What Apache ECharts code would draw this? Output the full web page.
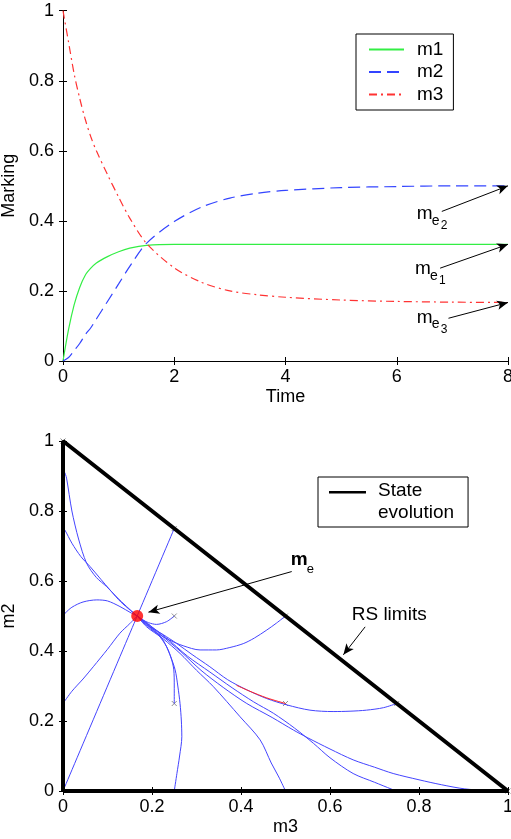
<!DOCTYPE html>
<html>
<head>
<meta charset="utf-8">
<script src="https://cdn.jsdelivr.net/npm/echarts@6/dist/echarts.min.js"></script>
<style>html,body{margin:0;padding:0;background:#fff}#c{width:511px;height:839px}</style>
</head>
<body>
<div id="c"></div>
<script>
// ---------- top chart data (Marking vs Time) ----------
const time = [0, 0.1, 0.2, 0.3, 0.4, 0.5, 0.6, 0.8, 1.0, 1.2, 1.5, 2.0, 2.5, 3.0, 3.5, 4, 5, 6, 7, 8];
const m1 = [0, 0.09, 0.16, 0.21, 0.245, 0.265, 0.28, 0.298, 0.312, 0.322, 0.33, 0.333, 0.333, 0.333, 0.333, 0.333, 0.333, 0.333, 0.333, 0.333];
const m2 = [0, 0.01, 0.03, 0.05, 0.075, 0.095, 0.12, 0.17, 0.22, 0.27, 0.336, 0.398, 0.44, 0.465, 0.479, 0.487, 0.495, 0.498, 0.5, 0.5];
const m3 = [1, 0.91, 0.82, 0.75, 0.69, 0.64, 0.60, 0.532, 0.468, 0.408, 0.336, 0.266, 0.224, 0.2, 0.189, 0.182, 0.174, 0.17, 0.168, 0.167];
const topXTicks = [0, 2, 4, 6, 8];
const topYTicks = [0, 0.2, 0.4, 0.6, 0.8, 1];
// arrows: [from, to] in (Time, Marking)
const topArrows = [
  [[6.81, 0.427], [8, 0.5]],
  [[6.78, 0.265], [8, 0.333]],
  [[6.93, 0.122], [8, 0.167]]
];
// labels m_e with subscript: anchor = left-middle of "m"
const topNotes = [
  { at: [6.36, 0.42], sub: '2' },
  { at: [6.33, 0.263], sub: '1' },
  { at: [6.36, 0.124], sub: '3' }
];

// ---------- bottom chart data (m2 vs m3) ----------
const rsLimits = [[0, 0], [1, 0], [0, 1], [0, 0]];
const equilibrium = [[0.1667, 0.5]];
const startPoints = [[0, 1], [0.25, 0.75], [0.25, 0.5], [0.5, 0.5], [0.25, 0.25], [0.5, 0.25], [0.75, 0.25], [1, 0]];
const trajectories = [
  [[0.004, 0.91], [0.008, 0.894], [0.02, 0.80], [0.035, 0.72], [0.053, 0.651], [0.075, 0.61], [0.098, 0.584], [0.12, 0.555], [0.143, 0.527], [0.1667, 0.5]],
  [[0, 0.75], [0.004, 0.746], [0.02, 0.708], [0.04, 0.67], [0.061, 0.641], [0.085, 0.605], [0.106, 0.574], [0.13, 0.54], [0.1667, 0.5]],
  [[0.25, 0.75], [0.1667, 0.5]],
  [[0, 0], [0.1667, 0.5]],
  [[0, 0.5], [0.004, 0.507], [0.02, 0.525], [0.045, 0.54], [0.076, 0.546], [0.1, 0.543], [0.128, 0.527], [0.154, 0.508], [0.1667, 0.5]],
  [[0, 0.25], [0.02, 0.285], [0.045, 0.32], [0.068, 0.355], [0.1, 0.405], [0.128, 0.451], [0.15, 0.478], [0.1667, 0.5]],
  [[0.25, 0.5], [0.233, 0.484], [0.21, 0.476], [0.192, 0.481], [0.178, 0.49], [0.1667, 0.5]],
  [[0.5, 0.5], [0.48, 0.48], [0.458, 0.46], [0.43, 0.437], [0.405, 0.421], [0.375, 0.41], [0.345, 0.403], [0.308, 0.403], [0.27, 0.415], [0.24, 0.431], [0.2, 0.46], [0.1667, 0.5]],
  [[0.75, 0.25], [0.72, 0.238], [0.682, 0.231], [0.645, 0.228], [0.607, 0.227], [0.555, 0.231], [0.503, 0.246], [0.458, 0.264], [0.413, 0.289], [0.37, 0.318], [0.33, 0.355], [0.29, 0.39], [0.255, 0.422], [0.225, 0.447], [0.2, 0.466], [0.1667, 0.5]],
  [[1, 0], [0.95, 0.002], [0.903, 0.006], [0.85, 0.018], [0.8, 0.032], [0.742, 0.05], [0.7, 0.068], [0.652, 0.089], [0.6, 0.12], [0.55, 0.152], [0.518, 0.174], [0.47, 0.21], [0.413, 0.25], [0.36, 0.296], [0.31, 0.345], [0.265, 0.398], [0.22, 0.446], [0.19, 0.479], [0.1667, 0.5]],
  [[0.75, 0], [0.739, 0.005], [0.7, 0.025], [0.652, 0.05], [0.6, 0.095], [0.563, 0.136], [0.52, 0.18], [0.473, 0.222], [0.428, 0.255], [0.38, 0.295], [0.33, 0.34], [0.28, 0.385], [0.23, 0.44], [0.19, 0.478], [0.1667, 0.5]],
  [[0.5, 0], [0.485, 0.04], [0.468, 0.08], [0.443, 0.146], [0.398, 0.212], [0.338, 0.298], [0.3, 0.345], [0.263, 0.393], [0.225, 0.435], [0.188, 0.469], [0.1667, 0.5]],
  [[0.25, 0], [0.256, 0.05], [0.262, 0.1], [0.267, 0.155], [0.266, 0.2], [0.263, 0.25], [0.258, 0.3], [0.252, 0.346], [0.24, 0.39], [0.225, 0.431], [0.205, 0.46], [0.188, 0.474], [0.1667, 0.5]],
  [[0.25, 0.25], [0.25, 0.3], [0.249, 0.346], [0.243, 0.38], [0.233, 0.412], [0.215, 0.445], [0.195, 0.469], [0.1667, 0.5]]
];
const redSegment = [[0.5, 0.25], [0.458, 0.266], [0.42, 0.285], [0.39, 0.302]];
const bottomArrows = [
  [[0.514, 0.627], [0.192, 0.511]],
  [[0.679, 0.469], [0.63, 0.389]]
];
const meNote = { at: [0.512, 0.66] };
const rsNote = { at: [0.733, 0.503], text: 'RS limits' };
const bottomTicks = [0, 0.2, 0.4, 0.6, 0.8, 1];

const FONT = 'Liberation Sans, Arial, sans-serif';
const chart = echarts.init(document.getElementById('c'), null, { renderer: 'canvas' });

function mainAxis(grid, pos, min, max, interval, name, nameGap, rotate) {
  return {
    type: 'value', gridIndex: grid, position: pos, min: min, max: max, interval: interval,
    name: name, nameLocation: 'middle', nameGap: nameGap, nameRotate: rotate,
    nameTextStyle: { color: '#000', fontSize: 18, fontFamily: FONT },
    axisLine: { show: true, lineStyle: { color: '#000', width: 1 } },
    axisTick: { show: true, inside: true, length: 4, lineStyle: { color: '#000' } },
    axisLabel: { color: '#000', fontSize: 18, fontFamily: FONT, margin: pos === 'left' ? 9 : 7 },
    splitLine: { show: false }
  };
}
function boxAxis(grid, pos, min, max, interval) {
  return {
    type: 'value', gridIndex: grid, position: pos, min: min, max: max, interval: interval,
    axisLine: { show: true, lineStyle: { color: '#000', width: 1 } },
    axisTick: { show: true, inside: true, length: 4, lineStyle: { color: '#000' } },
    axisLabel: { show: false }, splitLine: { show: false }
  };
}

const arrowLine = (arr) => ({
  silent: true, symbol: ['none', 'arrow'], symbolSize: [7, 11],
  label: { show: false }, lineStyle: { color: '#000', width: 1, type: 'solid' },
  emphasis: { disabled: true },
  data: arr.map(a => [{ coord: a[0] }, { coord: a[1] }])
});

const series = [
  { name: 'm1', type: 'line', xAxisIndex: 0, yAxisIndex: 0, data: time.map((t, i) => [t, m1[i]]),
    symbol: 'none', smooth: 0.3, clip: false, lineStyle: { color: '#33ee44', width: 1.2 }, itemStyle: { color: '#33ee44' },
    markLine: arrowLine(topArrows) },
  { name: 'm2', type: 'line', xAxisIndex: 0, yAxisIndex: 0, data: time.map((t, i) => [t, m2[i]]),
    symbol: 'none', smooth: 0.3, lineStyle: { color: '#3344ff', width: 1.2, type: [12, 6] }, itemStyle: { color: '#3344ff' } },
  { name: 'm3', type: 'line', xAxisIndex: 0, yAxisIndex: 0, data: time.map((t, i) => [t, m3[i]]),
    symbol: 'none', smooth: 0.3, lineStyle: { color: '#ff3333', width: 1.2, type: [8, 4, 2, 4] }, itemStyle: { color: '#ff3333' } }
];
trajectories.forEach((tr, k) => series.push({
  name: 'traj' + k, type: 'line', xAxisIndex: 2, yAxisIndex: 2, data: tr, symbol: 'none', smooth: 0.3,
  lineStyle: { color: '#4444ff', width: 1 }, silent: true
}));
series.push({ name: 'redseg', type: 'line', xAxisIndex: 2, yAxisIndex: 2, data: redSegment, symbol: 'none', smooth: 0.3,
  lineStyle: { color: '#ff2222', width: 1 }, silent: true });
series.push({ name: 'State evolution', type: 'line', xAxisIndex: 2, yAxisIndex: 2, data: rsLimits, symbol: 'none',
  lineStyle: { color: '#000', width: 4 }, itemStyle: { color: '#000' }, clip: false,
  markLine: arrowLine(bottomArrows) });
series.push({ name: 'starts', type: 'scatter', xAxisIndex: 2, yAxisIndex: 2, data: startPoints,
  symbol: 'path://M0,0L10,10M10,0L0,10', symbolSize: 5,
  itemStyle: { color: 'none', borderColor: '#777', borderWidth: 1 }, silent: true });
series.push({ name: 'eq', type: 'scatter', xAxisIndex: 2, yAxisIndex: 2, data: equilibrium, symbolSize: 12,
  itemStyle: { color: '#ff0000' }, silent: true, z: 5 });

chart.setOption({
  animation: false,
  textStyle: { fontFamily: FONT },
  grid: [
    { left: 63, top: 10.7, width: 445, height: 350.3, outerBoundsMode: 'none', containLabel: false },
    { left: 63, top: 441, width: 445, height: 350, outerBoundsMode: 'none', containLabel: false }
  ],
  xAxis: [
    mainAxis(0, 'bottom', topXTicks[0], topXTicks[topXTicks.length - 1], 2, 'Time', 27),
    boxAxis(0, 'top', 0, 8, 2),
    mainAxis(1, 'bottom', bottomTicks[0], bottomTicks[bottomTicks.length - 1], 0.2, 'm3', 27),
    boxAxis(1, 'top', 0, 1, 0.2)
  ],
  yAxis: [
    mainAxis(0, 'left', topYTicks[0], topYTicks[topYTicks.length - 1], 0.2, 'Marking', 37),
    boxAxis(0, 'right', 0, 1, 0.2),
    mainAxis(1, 'left', bottomTicks[0], bottomTicks[bottomTicks.length - 1], 0.2, 'm2', 37),
    boxAxis(1, 'right', 0, 1, 0.2)
  ],
  legend: [
    { data: ['m1', 'm2', 'm3'], orient: 'vertical', left: 356, top: 34,
      backgroundColor: '#fff', borderColor: '#000', borderWidth: 1, borderRadius: 0,
      padding: [6, 10, 6, 12], itemGap: 3.5, itemWidth: 35, itemHeight: 14,
      itemStyle: { color: 'rgba(0,0,0,0)', borderWidth: 0, opacity: 0 },
      textStyle: { fontSize: 19, color: '#000', fontFamily: FONT, padding: [0, 0, 0, 8] }, selectedMode: false },
    { data: [{ name: 'State evolution', icon: 'path://M0,0H37V2.5H0Z M0,22H0.01V22.01H0Z' }],
      left: 318, top: 477, backgroundColor: '#fff', borderColor: '#000', borderWidth: 1, borderRadius: 0,
      padding: [3, 14, 3, 11], itemWidth: 37, itemHeight: 22,
      formatter: () => 'State\nevolution',
      textStyle: { fontSize: 19, lineHeight: 22, color: '#000', fontFamily: FONT, padding: [0, 0, 0, 7] }, selectedMode: false }
  ],
  series: series
});

// annotations with subscripts, anchored to data coordinates
const g = [];
topNotes.forEach(n => {
  const p = chart.convertToPixel({ gridIndex: 0 }, n.at);
  g.push({ type: 'text', x: p[0], y: p[1], style: { text: 'm', fontSize: 19, fontFamily: FONT, fill: '#000', verticalAlign: 'middle', align: 'left' } });
  g.push({ type: 'text', x: p[0] + 15, y: p[1] + 7, style: { text: 'e', fontSize: 14, fontFamily: FONT, fill: '#000', verticalAlign: 'middle', align: 'left' } });
  g.push({ type: 'text', x: p[0] + 24, y: p[1] + 12, style: { text: n.sub, fontSize: 12, fontFamily: FONT, fill: '#000', verticalAlign: 'middle', align: 'left' } });
});
const pm = chart.convertToPixel({ gridIndex: 1 }, meNote.at);
g.push({ type: 'text', x: pm[0], y: pm[1], style: { text: 'm', fontSize: 19, fontWeight: 'bold', fontFamily: FONT, fill: '#000', verticalAlign: 'middle', align: 'left' } });
g.push({ type: 'text', x: pm[0] + 16, y: pm[1] + 9, style: { text: 'e', fontSize: 13, fontFamily: FONT, fill: '#000', verticalAlign: 'middle', align: 'left' } });
const pr = chart.convertToPixel({ gridIndex: 1 }, rsNote.at);
g.push({ type: 'text', x: pr[0], y: pr[1], style: { text: rsNote.text, fontSize: 19, fontFamily: FONT, fill: '#000', verticalAlign: 'middle', align: 'center' } });
chart.setOption({ graphic: g });
</script>
</body>
</html>
